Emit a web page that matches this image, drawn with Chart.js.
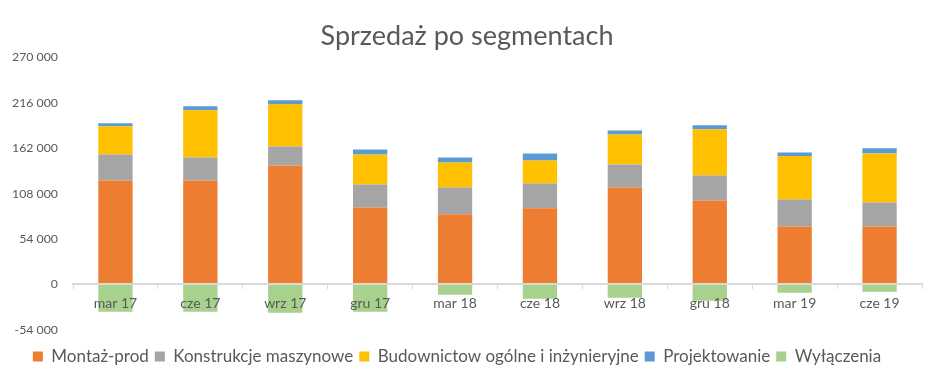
<!DOCTYPE html>
<html>
<head>
<meta charset="utf-8">
<script src="https://cdn.jsdelivr.net/npm/chart.js@4"></script>
<style>
  html, body { margin: 0; padding: 0; background: #fff; }
  #wrap { width: 944px; height: 381px; }
</style>
</head>
<body>
<div id="wrap"><canvas id="myChart"></canvas></div>
<script>
var labels = ["mar 17","cze 17","wrz 17","gru 17","mar 18","cze 18","wrz 18","gru 18","mar 19","cze 19"];
var montaz = [123600,123600,141500,91400,83400,90600,115300,99800,68800,68800];
var konstrukcje = [31000,27400,22600,27400,31900,29400,27400,29800,32200,28600];
var budownictwo = [33400,56000,50500,35800,29800,27500,35700,54800,51600,58400];
var projektowanie = [3600,4800,4400,6000,5900,8300,4800,4800,4400,6000];
var wylaczenia = [-32500,-32500,-33700,-32500,-12300,-17000,-15900,-19400,-9900,-8700];
var yMin = -54000, yMax = 270000, yStep = 54000;

var font = "Lato, 'Open Sans', sans-serif";
var txt = "#595959";

function fmt(v) {
  var s = Math.abs(v).toString().replace(/\B(?=(\d{3})+(?!\d))/g, " ");
  return (v < 0 ? "-" : "") + s;
}

// legenda w oryginale jest lekko przesunięta w lewo
var legendShift = {
  id: "legendShift",
  afterLayout: function (chart) {
    chart.legend.left -= 10;
    chart.legend.right -= 10;
  }
};

var ctx = document.getElementById("myChart");
var myChart = new Chart(ctx, {
  type: "bar",
  data: {
    labels: labels,
    datasets: [
      { label: "Montaż-prod", data: montaz, backgroundColor: "#ED7D31" },
      { label: "Konstrukcje maszynowe", data: konstrukcje, backgroundColor: "#A5A5A5" },
      { label: "Budownictow ogólne i inżynieryjne", data: budownictwo, backgroundColor: "#FFC000" },
      { label: "Projektowanie", data: projektowanie, backgroundColor: "#5B9BD5" },
      { label: "Wyłączenia", data: wylaczenia, backgroundColor: "#A9D18E" }
    ]
  },
  plugins: [legendShift],
  options: {
    responsive: true,
    maintainAspectRatio: false,
    animation: false,
    datasets: { bar: { categoryPercentage: 0.8, barPercentage: 0.505 } },
    layout: { padding: { left: 12, right: 22, top: 8, bottom: 6 } },
    plugins: {
      title: {
        display: true,
        text: "Sprzedaż po segmentach",
        color: txt,
        font: { family: font, size: 27, weight: "normal" },
        padding: { top: 12, bottom: 5 }
      },
      legend: {
        position: "bottom",
        title: { display: true, text: "", font: { size: 1 }, padding: { top: 5, bottom: 6 } },
        labels: {
          color: txt,
          font: { family: font, size: 17 },
          boxWidth: 10,
          boxHeight: 10,
          padding: 6
        }
      },
      tooltip: { enabled: false }
    },
    scales: {
      x: {
        stacked: true,
        position: { y: 0 },
        grid: { display: true, drawOnChartArea: false, drawTicks: true, tickLength: 4, color: "#D9D9D9", offset: true, z: 1 },
        border: { display: true, color: "#D9D9D9", width: 2, z: 1 },
        ticks: { z: 1, color: txt, font: { family: font, size: 14 }, padding: 7, maxRotation: 0 }
      },
      y: {
        stacked: true,
        min: yMin,
        max: yMax,
        afterFit: function (scale) { scale.width = 61; },
        grid: { display: false, drawTicks: false },
        border: { display: false },
        ticks: {
          stepSize: yStep,
          color: txt,
          font: { family: font, size: 12.3 },
          padding: 15,
          callback: function (v) { return fmt(v); }
        }
      }
    }
  }
});
</script>
</body>
</html>
